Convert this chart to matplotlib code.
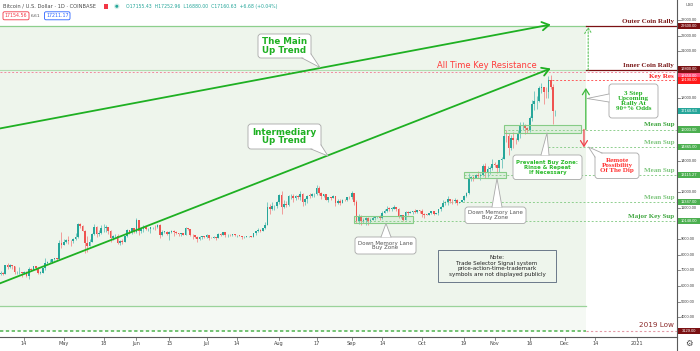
import numpy as np
import matplotlib
matplotlib.use("Agg")
import matplotlib.pyplot as plt
import matplotlib.dates as mdates
import matplotlib.transforms as mtransforms
from matplotlib.patches import FancyBboxPatch, Polygon, Rectangle, Circle
from matplotlib.lines import Line2D

# ---------------- data (daily candles: close, high, low) ----------------
first_open = 6800
apr = [(6740,7000,6600),(6860,6990,6680),(6780,6880,6680),(7340,7370,6780),(7200,7470,7110),
       (7370,7420,7150),(7300,7370,7110),(6870,7300,6760),(6890,6950,6780),(6915,7190,6800),
       (6860,6915,6550),(6880,6990,6780),(6630,6930,6610),(7110,7220,6480),(7040,7150,7000),
       (7260,7300,7030),(7130,7260,7050),(6850,7210,6800),(6860,6930,6800),(7130,7160,6840),
       (7490,7770,7030),(7510,7620,7390),(7540,7700,7450),(7700,7720,7480),(7790,7800,7660),
       (7760,7800,7670),(8780,8960,7740),(8620,9460,8420)]
may = [(8830,9000,8620),(8970,9000,8760),(8890,9190,8700),(8880,8960,8530),(9030,9100,8750),
       (9150,9400,8930),(9990,10060,9050),(9810,10020,9710),(9540,9920,9520),(8730,9570,8110),
       (8560,9170,8200),(8810,8980,8530),(9310,9400,8800),(9790,9950,9260),(9320,9840,9130),
       (9380,9590,9220),(9680,9890,9320),(9730,9950,9470),(9780,9890,9480),(9510,9800,9300),
       (9060,9560,8820),(9170,9270,8950),(9180,9310,9090),(8720,9300,8700),(8900,8970,8640),
       (8840,9010,8700),(9200,9220,8820),(9580,9620,9110),(9430,9600,9340),(9700,9740,9330),
       (9450,9700,9370)]
jun = [(10200,10380,9420),(9520,10230,9270),(9660,9690,9380),(9790,9880,9460),(9620,9850,9580),
       (9670,9740,9530),(9750,9800,9380),(9780,9800,9630),(9770,9880,9580),(9880,9970,9690),
       (9270,9940,9100),(9470,9560,9220),(9470,9500,9380),(9340,9490,9260),(9430,9500,8920),
       (9520,9580,9360),(9460,9560,9230),(9380,9490,9300),(9300,9400,9200),(9360,9390,9180),
       (9290,9410,9280),(9690,9780,9280),(9620,9700,9580),(9280,9670,9200),(9250,9320,9030),
       (9160,9290,9040),(8990,9190,8830),(9120,9190,8940),(9190,9230,9020),(9140,9200,9060)]
jul = [(9240,9300,9090),(9090,9270,8940),(9060,9130,9040),(9130,9190,9050),(9080,9130,8960),
       (9340,9370,9070),(9250,9360,9220),(9440,9470,9240),(9240,9450,9150),(9290,9300,9120),
       (9240,9310,9200),(9300,9350,9170),(9240,9340,9200),(9250,9280,9130),(9190,9270,9170),
       (9130,9210,9000),(9150,9190,9080),(9170,9200,9120),(9210,9230,9110),(9160,9220,9130),
       (9390,9420,9150),(9530,9540,9290),(9600,9680,9460),(9540,9650,9450),(9700,9730,9530),
       (9930,10100,9650),(11030,11400,9930),(10920,11250,10600),(11100,11340,10850),(11110,11180,10840),
       (11350,11450,10970)]
aug = [(11800,11860,11220),(11070,12100,10600),(11230,11480,11000),(11190,11420,11030),(11750,11790,11100),
       (11770,11900,11580),(11600,11910,11370),(11760,11800,11520),(11680,11810,11540),(11880,12070,11520),
       (11400,11940,11130),(11570,11620,11170),(11780,11800,11300),(11770,11950,11650),(11860,11970,11690),
       (11910,11930,11700),(12290,12480,11800),(11960,12400,11830),(11750,12030,11570),(11860,11880,11660),
       (11530,11900,11500),(11680,11690,11400),(11650,11720,11530),(11760,11820,11600),(11330,11770,11120),
       (11460,11540,11260),(11320,11590,11150),(11530,11550,11280),(11480,11580,11420),(11710,11720,11460),
       (11660,11760,11580)]
sep = [(11920,12090,11540),(11400,11950,11160),(10180,11480,10020),(10470,10620,9990),(10170,10560,9880),
       (10250,10340,10030),(10380,10400,9890),(10130,10430,9880),(10230,10340,10020),(10350,10500,10230),
       (10400,10420,10200),(10440,10480,10340),(10330,10560,10220),(10680,10800,10260),(10790,10950,10640),
       (10950,11100,10700),(10940,11040,10800),(10940,11040,10820),(11080,11180,10900),(10920,11060,10790),
       (10420,10990,10360),(10530,10570,10360),(10240,10560,10140),(10740,10780,10200),(10690,10780,10560),
       (10730,10770,10640),(10770,10800,10600),(10700,10950,10650),(10840,10860,10640),(10780,10830,10670)]
octo = [(10620,10940,10430),(10570,10660,10380),(10550,10600,10520),(10670,10690,10540),(10790,10800,10600),
        (10600,10790,10530),(10670,10690,10580),(10920,10950,10550),(11060,11100,10820),(11300,11490,11050),
        (11380,11440,11210),(11550,11730,11180),(11430,11560,11300),(11420,11550,11250),(11510,11630,11280),
        (11320,11540,11200),(11370,11400,11300),(11500,11530,11350),(11750,11820,11420),(11920,11990,11680),
        (12820,13220,11890),(12990,13020,12720),(12930,13030,12730),(13120,13170,12880),(13030,13350,12900),
        (13070,13250,12780),(13650,13790,13060),(13280,13860,12920),(13460,13650,12990),(13560,13690,13140),
        (13800,14100,13430)]
nov = [(13760,13900,13600),(13560,13830,13210),(14030,14070,13300),(14150,14240,13530),(15590,15770,14100),
       (15580,15980,15180),(14830,15770,14350),(15480,15650,14710),(15330,15850,14800),(15310,15480,15080),
       (15700,15960,15290),(16280,16480,15440),(16320,16480,15970),(16070,16330,15720),(15960,16170,15800),
       (16720,16880,15870),(17660,17860,16560),(17800,18480,17220),(17820,18120,17340),(18680,18800,17760),
       (18700,18960,18330),(18420,18700,17620),(18370,18750,18000),(19160,19420,18030),(18740,19490,18580),
       (17155.43,18920,16330),(17160.63,17252.96,16880.00)]
first_date = '2020-04-03'

# key levels
outer_rally = 22600.00
inner_rally = 19800.00
ath_level = 19650.00
key_res = 19190.00
last_price = 17160.63
mean_sup_1 = 16003.00
mean_sup_2 = 14865.00
mean_sup_3 = 13115.27
mean_sup_4 = 11347.00
major_sup = 10148.00
low_2019 = 3129.00
box_floor = 4745.00

# trend lines (date, price)
main_trend_dates = ['2020-04-03', '2020-11-25']
main_trend_prices = [16050, 22710]
inter_trend_dates = ['2020-04-03', '2020-11-25']
inter_trend_prices = [6130, 19900]

# buy zones (start date, end date, low, high)
zone_dml1 = ('2020-09-02', '2020-09-27', 10010, 10476)
zone_dml2 = ('2020-10-19', '2020-11-06', 12885, 13307)
zone_prev = ('2020-11-05', '2020-12-08', 15780, 16291)

price_ticks = [23000, 22000, 21000, 18000, 14000, 12000, 11000, 9000, 8000, 7000, 6000, 5000, 4000]
date_ticks = ['2020-04-14','2020-05-01','2020-05-18','2020-06-01','2020-06-15','2020-07-01','2020-07-14',
              '2020-08-01','2020-08-17','2020-09-01','2020-09-14','2020-10-01','2020-10-19','2020-11-01',
              '2020-11-16','2020-12-01','2020-12-14','2021-01-01']
date_labels = ['14','May','18','Jun','15','Jul','14','Aug','17','Sep','14','Oct','19','Nov','16','Dec','14','2021']

# ---------------- build candles ----------------
rows = apr + may + jun + jul + aug + sep + octo + nov
close = np.array([r[0] for r in rows], float)
high = np.array([r[1] for r in rows], float)
low = np.array([r[2] for r in rows], float)
opn = np.concatenate([[first_open], close[:-1]])
dates = np.datetime64(first_date) + np.arange(len(rows))
xd = mdates.date2num(dates)

def dn(s):
    return mdates.date2num(np.datetime64(s))

# ---------------- figure / geometry ----------------
W, H = 700, 351
PLOT_R, PLOT_B = 677, 337
fig = plt.figure(figsize=(7, 3.51), dpi=100)
fig.patch.set_facecolor('white')
ax = fig.add_axes([0, (H - PLOT_B) / H, PLOT_R / W, PLOT_B / H])
ax.set_facecolor('white')

XPD = 2.341          # px per day
PPU = 0.01565        # px per USD
xmin = dn('2020-05-01') - 63.8 / XPD
xmax = xmin + PLOT_R / XPD
ytop = 23000 + 20 / PPU
ybot = ytop - PLOT_B / PPU
ax.set_xlim(xmin, xmax)
ax.set_ylim(ybot, ytop)
ax.set_xticks([]); ax.set_yticks([])
for s in ax.spines.values():
    s.set_visible(False)

def ypx(p):
    return (ytop - p) * PPU
def xpx(d):
    return (d - xmin) * XPD

PX = mtransforms.Affine2D().scale(1.0 / W, -1.0 / H).translate(0, 1) + fig.transFigure

# ---------------- shaded regions ----------------
box_end = dn('2020-12-10')
ax.add_patch(Rectangle((xmin, box_floor), box_end - xmin, outer_rally - box_floor,
                       fc='#eef5ec', ec='none', zorder=0.2))
ax.add_patch(Rectangle((xmin, low_2019), box_end - xmin, box_floor - low_2019,
                       fc='#f5f9f4', ec='none', zorder=0.2))
ax.plot([xmin, box_end], [outer_rally, outer_rally], color='#8dcf8d', lw=0.9, zorder=1)
ax.plot([xmin, box_end], [box_floor, box_floor], color='#9ad39a', lw=0.9, zorder=1)
ax.plot([xmin, box_end], [inner_rally, inner_rally], color='#b2dcb2', lw=0.8, zorder=1)

# ---------------- level lines ----------------
ax.plot([box_end, xmax], [outer_rally, outer_rally], color='#7b1113', lw=0.9, zorder=1)
ax.plot([box_end, xmax], [inner_rally, inner_rally], color='#7b1113', lw=0.9, zorder=1)
ax.plot([xmin, xmax], [ath_level, ath_level], color='#f28aa0', lw=0.7, ls=(0, (2, 2)), zorder=1)
ax.plot([dn('2020-11-24'), xmax], [key_res, key_res], color='#ff5b5b', lw=0.7, ls=(0, (2, 2)), zorder=1)
gdot = dict(color='#8fcf8f', lw=0.7, ls=(0, (2, 2)), zorder=1)
ax.plot([dn('2020-11-05'), xmax], [mean_sup_1, mean_sup_1], **gdot)
ax.plot([dn('2020-11-24'), xmax], [mean_sup_2, mean_sup_2], **gdot)
ax.plot([dn('2020-10-19'), xmax], [mean_sup_3, mean_sup_3], **gdot)
ax.plot([dn('2020-10-10'), xmax], [mean_sup_4, mean_sup_4], **gdot)
ax.plot([dn('2020-09-02'), xmax], [major_sup, major_sup], **gdot)
ax.plot([xmin, box_end], [low_2019, low_2019], color='#5cb85c', lw=1.2, ls=(0, (2, 1.5)), zorder=1)
ax.plot([box_end, xmax], [low_2019, low_2019], color='#e39aa6', lw=0.8, ls=(0, (2, 2)), zorder=1)

# ---------------- candles ----------------
up = close >= opn
cols = np.where(up, '#26a69a', '#ef5350')
wick_cols = np.where(up, '#6cc5bb', '#f28e8c')
ax.vlines(xd, low, high, colors=wick_cols, lw=0.6, zorder=3)
body_lo = np.minimum(opn, close)
body_h = np.maximum(np.abs(close - opn), 30)
ax.bar(xd, body_h, bottom=body_lo, width=0.72, color=cols, linewidth=0, zorder=4)

# ---------------- buy zones ----------------
for z in (zone_dml1, zone_dml2, zone_prev):
    ax.add_patch(Rectangle((dn(z[0]), z[2]), dn(z[1]) - dn(z[0]), z[3] - z[2],
                           fc=(0.6, 0.85, 0.6, 0.18), ec='#86cc86', lw=0.8, zorder=5))

# ---------------- trend lines ----------------
for dd, pp in ((main_trend_dates, main_trend_prices), (inter_trend_dates, inter_trend_prices)):
    ax.annotate('', xy=(dn(dd[1]), pp[1]), xytext=(dn(dd[0]), pp[0]),
                arrowprops=dict(arrowstyle='->,head_length=0.5,head_width=0.3', color='#1eb022', lw=1.3,
                                shrinkA=0, shrinkB=0), zorder=6, annotation_clip=False)

# vertical move arrows
xa = dn('2020-12-10')
ax.annotate('', xy=(xa, 18655), xytext=(xa, mean_sup_1),
            arrowprops=dict(arrowstyle='->,head_length=0.4,head_width=0.25', color='#3cb83c', lw=0.9,
                            shrinkA=0, shrinkB=0), zorder=6)
ax.annotate('', xy=(xa + 1, outer_rally - 40), xytext=(xa + 1, inner_rally),
            arrowprops=dict(arrowstyle='->,head_length=0.4,head_width=0.25', color='#5cc35c', lw=0.8,
                            ls=(0, (1.5, 1.5)), shrinkA=0, shrinkB=0), zorder=6)
ax.annotate('', xy=(xa - 0.8, mean_sup_2), xytext=(xa - 0.8, mean_sup_1),
            arrowprops=dict(arrowstyle='->,head_length=0.4,head_width=0.25', color='#f0404a', lw=0.9,
                            shrinkA=0, shrinkB=0), zorder=6)

# ---------------- texts on chart ----------------
serif = 'Liberation Serif'
sans = 'DejaVu Sans'

def rtext(txt, level, color, dy=4.6, size=5.0, weight='bold', family=serif):
    fig.text(674, ypx(level) - dy, txt, transform=PX, ha='right', va='center', color=color,
             fontsize=size, fontweight=weight, family=family, zorder=30)

rtext('Outer Coin Rally', outer_rally, '#7b1a1a')
rtext('Inner Coin Rally', inner_rally, '#7b1a1a')
rtext('Key Res', ath_level, '#ff1f1f', dy=-3.6)
rtext('Mean Sup', mean_sup_1, '#3fa63f')
rtext('Mean Sup', mean_sup_2, '#7cc57c')
rtext('Mean Sup', mean_sup_3, '#7cc57c')
rtext('Mean Sup', mean_sup_4, '#7cc57c')
rtext('Major Key Sup', major_sup, '#3fa63f')
rtext('2019 Low', low_2019, '#8b2a2a', dy=5.5, size=5.2, weight='normal', family=sans)

fig.text(487, 65.7, 'All Time Key Resistance', transform=PX, ha='center', va='center',
         color='#ff3b3b', fontsize=6.0, family=sans, zorder=30)

def callout(x0, y0, x1, y1, tip, ba, bb, lines, color, size, family, weight, ls=1.0,
            ec='#a8a8a8', dy=0.0):
    box = FancyBboxPatch((x0, y0), x1 - x0, y1 - y0, boxstyle='round,pad=0,rounding_size=3',
                         transform=PX, fc='white', ec=ec, lw=0.6, zorder=20)
    fig.add_artist(box)
    fig.add_artist(Polygon([ba, tip, bb], closed=True, transform=PX, fc='white', ec='none', zorder=21))
    fig.add_artist(Line2D([ba[0], tip[0], bb[0]], [ba[1], tip[1], bb[1]], transform=PX,
                          color=ec, lw=0.6, zorder=22))
    fig.text((x0 + x1) / 2, (y0 + y1) / 2 + dy, '\n'.join(lines), transform=PX, ha='center',
             va='center', color=color, fontsize=size, family=family, fontweight=weight,
             linespacing=ls, zorder=23)

callout(258, 34, 311, 58, (320, 67.5), (302, 58), (311, 54), ['The Main', 'Up Trend'],
        '#1eb022', 6.3, sans, 'bold', ls=0.95)
callout(248, 124, 321, 149, (328, 156), (311, 149), (321, 145), ['Intermediary', 'Up Trend'],
        '#1eb022', 6.3, sans, 'bold', ls=0.95)
callout(609, 84, 658, 118, (587, 98.5), (609, 94), (609, 102),
        ['3 Step', 'Upcoming', 'Rally At', '90+% Odds'], '#22b022', 5.0, serif, 'bold', ls=0.92)
callout(595, 153, 639, 178.5, (588.5, 147), (595, 157), (602, 153),
        ['Remote', 'Possibility', 'Of The Dip'], '#ff3030', 5.0, serif, 'bold', ls=0.95)
callout(513, 155, 582, 179.5, (547, 133), (541, 155), (549, 155),
        ['Prevalent Buy Zone:', 'Rinse & Repeat', 'If Necessary'], '#2dbb2d', 3.9, sans, 'bold', ls=1.0)
callout(355, 237, 416, 254, (386, 223.5), (381, 237), (391, 237),
        ['Down Memory Lane', 'Buy Zone'], '#555555', 4.0, sans, 'normal', ls=1.0)
callout(465, 207, 526, 223.5, (497, 178.5), (492, 207), (502, 207),
        ['Down Memory Lane', 'Buy Zone'], '#555555', 4.0, sans, 'normal', ls=1.0)

# Note box
fig.add_artist(Rectangle((438, 250), 118, 32, transform=PX, fc='none', ec='#55657a', lw=0.6, zorder=20))
fig.text(497, 266, 'Note:\nTrade Selector Signal system\nprice-action-time-trademark\nsymbols are not displayed publicly',
         transform=PX, ha='center', va='center', fontsize=4.1, family=sans, color='#222222',
         linespacing=1.1, zorder=23)

# ---------------- header ----------------
fig.text(3, 6.5, 'Bitcoin / U.S. Dollar · 1D · COINBASE', transform=PX, ha='left', va='center',
         fontsize=3.7, family=sans, color='#4a4a4a', zorder=30)
fig.add_artist(Rectangle((103.5, 4.3), 4.5, 4.5, transform=PX, fc='#f23645', ec='none', zorder=30))
fig.add_artist(Circle((116.8, 6.3), 2.8, transform=PX, fc='#d7efe9', ec='none', zorder=30))
fig.add_artist(Circle((116.8, 6.3), 1.5, transform=PX, fc='#26a69a', ec='none', zorder=31))
fig.text(126, 6.5, 'O17155.43  H17252.96  L16880.00  C17160.63  +6.68 (+0.04%)', transform=PX,
         ha='left', va='center', fontsize=3.3, family=sans, color='#26a69a', zorder=30)
for (bx, bw, txt, c) in [(3, 26, '17154.56', '#f23645'), (44.5, 25.5, '17211.17', '#2962ff')]:
    fig.add_artist(FancyBboxPatch((bx, 11.8), bw, 8, boxstyle='round,pad=0,rounding_size=1.5',
                                  transform=PX, fc='white', ec=c, lw=0.6, zorder=30))
    fig.text(bx + bw / 2, 15.9, txt, transform=PX, ha='center', va='center', fontsize=3.4,
             family=sans, color=c, zorder=31)
fig.text(35.5, 15.9, '6.61', transform=PX, ha='center', va='center', fontsize=3.2, family=sans,
         color='#555555', zorder=31)

# ---------------- axes (right price scale, bottom time scale) ----------------
fig.add_artist(Line2D([PLOT_R, PLOT_R], [0, H], transform=PX, color='#5a5a5a', lw=0.8, zorder=40))
fig.add_artist(Line2D([0, PLOT_R], [PLOT_B, PLOT_B], transform=PX, color='#5a5a5a', lw=0.8, zorder=40))

for v in price_ticks:
    y = ypx(v)
    fig.add_artist(Line2D([PLOT_R, PLOT_R + 2.5], [y, y], transform=PX, color='#5a5a5a', lw=0.5, zorder=40))
    fig.text(681, y, '%.2f' % v, transform=PX, ha='left', va='center', fontsize=2.9,
             family='Liberation Sans', color='#444444', zorder=41)

tag_levels = [outer_rally, inner_rally, ath_level, key_res, last_price, mean_sup_1, mean_sup_2,
              mean_sup_3, mean_sup_4, major_sup, low_2019]
tag_colors = ['#7b1113', '#7b1113', '#ff4f7a', '#ff1a1a', '#26a69a', '#4caf50', '#4caf50',
              '#4caf50', '#4caf50', '#4caf50', '#7b1113']
# small vertical nudges so the stacked price tags do not overlap (as the price scale does)
tag_nudge = [0, -0.6, 3.8, 0.8, 0, 0, 0, 0, -0.4, 0, 0]
for v, c, dyn in zip(tag_levels, tag_colors, tag_nudge):
    y = ypx(v) + dyn
    fig.add_artist(Rectangle((678, y - 3.1), 22, 6.2, transform=PX, fc=c, ec='none', zorder=42))
    fig.text(689, y, '%.2f' % v, transform=PX, ha='center', va='center', fontsize=2.9,
             family='Liberation Sans', color='white', zorder=43)

fig.text(690, 5, 'USD', transform=PX, ha='center', va='center', fontsize=2.8,
         family='Liberation Sans', color='#444444', zorder=41)

for d, lab in zip(date_ticks, date_labels):
    x = xpx(dn(d))
    fig.add_artist(Line2D([x, x], [PLOT_B, PLOT_B + 2.5], transform=PX, color='#5a5a5a', lw=0.5, zorder=40))
    fig.text(x, 343.5, lab, transform=PX, ha='center', va='center', fontsize=3.6, family=sans,
             color='#444444', zorder=41)

fig.text(688.5, 343.5, '\u2699', transform=PX, ha='center', va='center', fontsize=6, family=sans,
         color='#444444', zorder=41)

fig.savefig('out.png', dpi=100, facecolor='white')
